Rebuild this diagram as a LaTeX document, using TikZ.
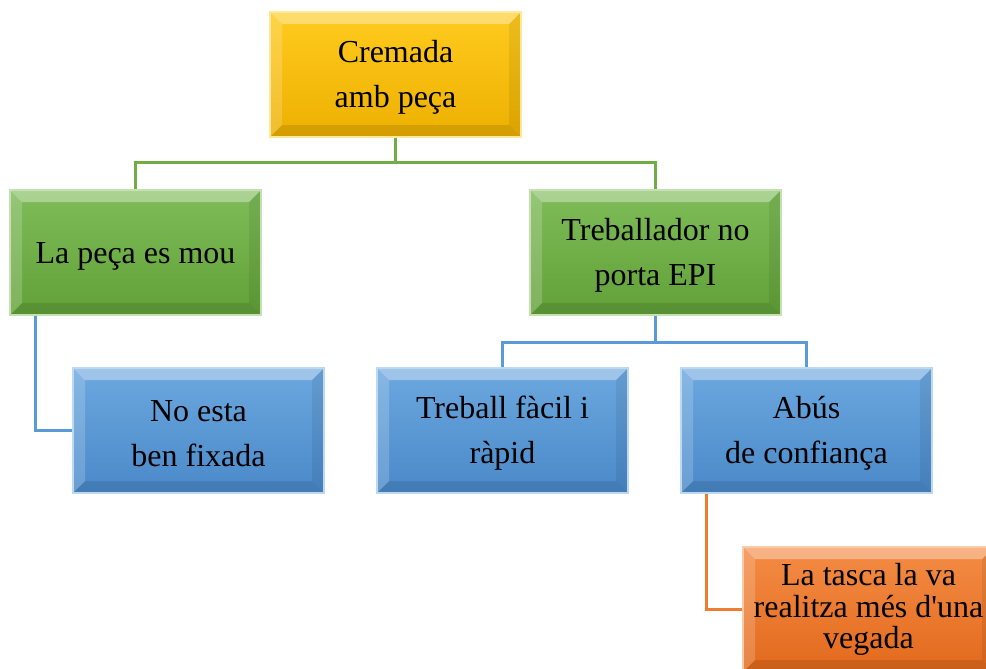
\documentclass[tikz,border=0pt]{standalone}
\usepackage{fontspec}
\setmainfont{Liberation Serif}[Ligatures=TeXOff]

\definecolor{grocA}{HTML}{FFCB1F}
\definecolor{grocB}{HTML}{EDB000}
\definecolor{verdA}{HTML}{7EBC59}
\definecolor{verdB}{HTML}{62A138}
\definecolor{blauA}{HTML}{6CA8DF}
\definecolor{blauB}{HTML}{4A89C9}
\definecolor{taronjaA}{HTML}{F48C45}
\definecolor{taronjaB}{HTML}{E2691C}
\definecolor{lverd}{HTML}{70AD47}
\definecolor{lblau}{HTML}{5B9BD5}
\definecolor{ltaronja}{HTML}{ED7D31}

\tikzset{
	caixa/.style={rectangle, minimum width=125.5pt, minimum height=62.5pt, inner sep=2pt, align=center,
		font=\fontsize{16}{22.5}\selectfont, line width=0.6pt,
		path picture={
			\fill[white, opacity=.35] (path picture bounding box.north west) -- (path picture bounding box.north east)
				-- ([shift={(-6pt,-6pt)}]path picture bounding box.north east) -- ([shift={(6pt,-6pt)}]path picture bounding box.north west) -- cycle;
			\fill[white, opacity=.18] (path picture bounding box.north west) -- ([shift={(6pt,-6pt)}]path picture bounding box.north west)
				-- ([shift={(6pt,6pt)}]path picture bounding box.south west) -- (path picture bounding box.south west) -- cycle;
			\fill[black, opacity=.07] (path picture bounding box.north east) -- ([shift={(-6pt,-6pt)}]path picture bounding box.north east)
				-- ([shift={(-6pt,6pt)}]path picture bounding box.south east) -- (path picture bounding box.south east) -- cycle;
			\fill[black, opacity=.1] (path picture bounding box.south west) -- (path picture bounding box.south east)
				-- ([shift={(-6pt,6pt)}]path picture bounding box.south east) -- ([shift={(6pt,6pt)}]path picture bounding box.south west) -- cycle;
		}},
	groc/.style={caixa, top color=grocA, bottom color=grocB, draw=grocA!45!white},
	verd/.style={caixa, top color=verdA, bottom color=verdB, draw=verdA!45!white},
	blau/.style={caixa, top color=blauA, bottom color=blauB, draw=blauA!45!white},
	taronja/.style={caixa, top color=taronjaA, bottom color=taronjaB, draw=taronjaA!45!white, font=\fontsize{16}{15.8}\selectfont},
	linia/.style={draw=#1, line width=1.5pt},
}

\begin{document}
\begin{tikzpicture}[x=0.5pt,y=-0.5pt]
		\useasboundingbox (0,0) rectangle (986,669);
		\node[groc] (cremada) at (395.5,74.5) {\rule{0pt}{14pt}Cremada\\amb peça};
		\node[verd] (peca) at (135.5,252.5) {\rule{0pt}{14pt}La peça es mou};
		\node[verd] (epi) at (655.5,252.5) {\rule{0pt}{14pt}Treballador no\\porta EPI};
		\node[blau] (fixada) at (198.5,430.5) {\rule{0pt}{14pt}No esta\\ben fixada};
		\node[blau] (rapid) at (502.5,430.5) {\rule{0pt}{14pt}Treball fàcil i\\ràpid};
		\node[blau] (abus) at (806.5,430.5) {\rule{0pt}{14pt}Abús\\de confiança};
		\node[taronja] (vegada) at (868.5,609.5) {La tasca la va\\realitza més d'una\\vegada};
		\draw[linia=lverd] (cremada.south) -- ++(0,25) -| (peca.north);
		\draw[linia=lverd] (cremada.south) -- ++(0,25) -| (epi.north);
		\draw[linia=lblau] (epi.south) -- ++(0,27) -| (rapid.north);
		\draw[linia=lblau] (epi.south) -- ++(0,27) -| (abus.north);
		\draw[linia=lblau] ([xshift=-50pt]peca.south) |- (fixada.west);
		\draw[linia=ltaronja] ([xshift=-50pt]abus.south) |- (vegada.west);
	\end{tikzpicture}
\end{document}
